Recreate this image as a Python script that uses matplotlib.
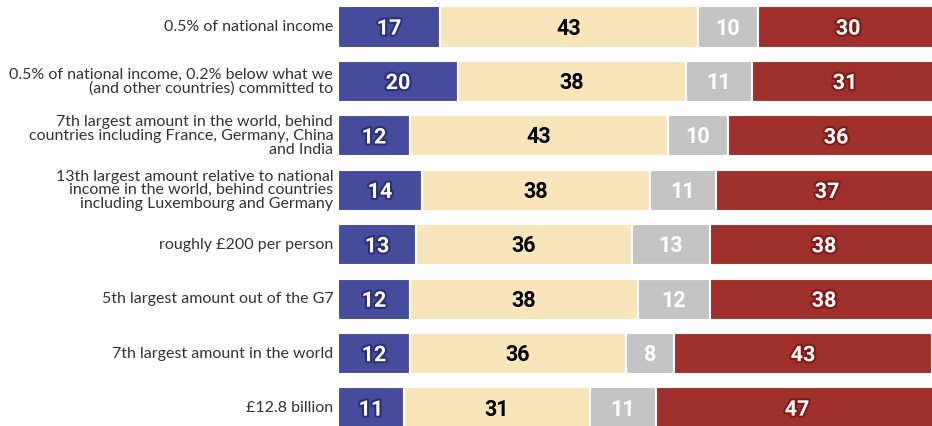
"""Stacked horizontal bars: public views on aid spending descriptions."""

import matplotlib.pyplot as plt
import matplotlib.patheffects as pe

questions = [
    "0.5% of national income",
    "0.5% of national income, 0.2% below what we\n(and other countries) committed to",
    "7th largest amount in the world, behind\ncountries including France, Germany, China\nand India",
    "13th largest amount relative to national\nincome in the world, behind countries\nincluding Luxembourg and Germany",
    "roughly £200 per person",
    "5th largest amount out of the G7",
    "7th largest amount in the world",
    "£12.8 billion",
]
too_little = [17, 20, 12, 14, 13, 12, 12, 11]
about_right = [43, 38, 43, 38, 36, 38, 36, 31]
dont_know = [10, 11, 10, 11, 13, 12, 8, 11]
too_much = [30, 31, 36, 37, 38, 38, 43, 47]

series = [too_little, about_right, dont_know, too_much]
colors = ["#454c9b", "#f8e6ba", "#c4c4c4", "#a0302b"]
text_colors = ["white", "black", "white", "white"]
outline_colors = ["#2a2f78", None, None, "#7e1a17"]

W, H = 932, 426
fig = plt.figure(figsize=(W / 100, H / 100), dpi=100)
fig.patch.set_facecolor("white")
# the 0-100 axis runs a little past the right edge of the figure
ax = fig.add_axes([338 / W, 0, 600 / W, 1])
ax.set_xlim(0, 100)
ax.set_ylim(7 + 18 / 54.43, -27 / 54.43)
ax.axis("off")

rows = range(len(questions))
left = [0] * len(questions)
for vals, col, tcol, ocol in zip(series, colors, text_colors, outline_colors):
    ax.barh(rows, vals, left=left, height=0.755, color=col,
            edgecolor="white", linewidth=1.5)
    for i, (v, l) in enumerate(zip(vals, left)):
        effects = [pe.withStroke(linewidth=3, foreground=ocol)] if ocol else []
        ax.text(l + v / 2, i + 0.03, str(v), ha="center", va="center",
                fontsize=15.5, fontweight="bold", family="Roboto",
                color=tcol, path_effects=effects)
    left = [a + b for a, b in zip(left, vals)]

for i, q in enumerate(questions):
    ax.text(-0.8, i, q, ha="right", va="center", fontsize=11.5,
            family="Lato", color="#333333", linespacing=0.97)

fig.savefig("out.png", dpi=100)
